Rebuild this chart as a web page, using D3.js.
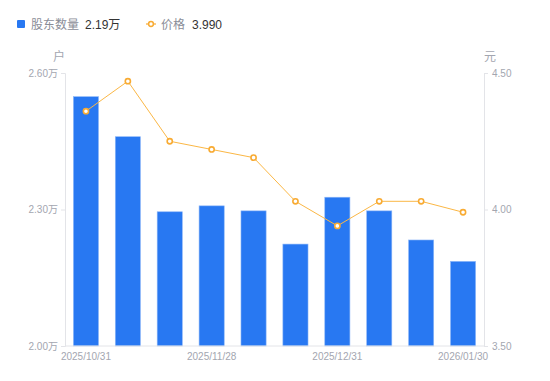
<!DOCTYPE html>
<html><head><meta charset="utf-8">
<script src="https://cdn.jsdelivr.net/npm/d3@7/dist/d3.min.js"></script>
<style>body{margin:0;background:#fff;}svg{display:block;font-family:"Liberation Sans","Noto Sans CJK SC",sans-serif;}</style>
</head><body>
<script>
const categories = ["2025/10/31","2025/11/10","2025/11/20","2025/11/28","2025/12/10","2025/12/20","2025/12/31","2026/01/10","2026/01/20","2026/01/30"];
const holders = [2.548, 2.460, 2.295, 2.308, 2.297, 2.224, 2.327, 2.297, 2.233, 2.186];
const prices = [4.36, 4.47, 4.25, 4.22, 4.19, 4.03, 3.94, 4.03, 4.03, 3.99];
const leftTicks = [2.00, 2.30, 2.60];
const rightTicks = [3.50, 4.00, 4.50];
const shownLabels = ["2025/10/31","2025/11/28","2025/12/31","2026/01/30"];

const W = 550, H = 381;
const m = {l:65, r:66, t:73, b:35};
const FONT = "'Liberation Sans','Noto Sans CJK SC',sans-serif";
const svg = d3.select("body").append("svg").attr("width", W).attr("height", H);

const x = d3.scaleBand().domain(categories).range([m.l, W - m.r]).paddingInner(0.4).paddingOuter(0.2);
const yL = d3.scaleLinear().domain([2.0, 2.6]).range([H - m.b, m.t]);
const yR = d3.scaleLinear().domain([3.5, 4.5]).range([H - m.b, m.t]);

const axisColor = "#e3e4e8", textColor = "#a3a6b0";

// bars
svg.append("g").selectAll("rect").data(holders).join("rect")
  .attr("x", (d,i) => x(categories[i]))
  .attr("y", d => yL(d))
  .attr("width", x.bandwidth())
  .attr("height", d => yL(2.0) - yL(d))
  .attr("fill", "#2878f2")
  .attr("stroke", "#8fb8f8").attr("stroke-width", 0.6);

// axes
const gL = svg.append("g").attr("transform", `translate(${m.l},0)`)
  .call(d3.axisLeft(yL).tickValues(leftTicks).tickSize(4).tickPadding(3).tickFormat(d => d3.format(".2f")(d) + "万"));
const gR = svg.append("g").attr("transform", `translate(${W - m.r},0)`)
  .call(d3.axisRight(yR).tickValues(rightTicks).tickSize(4).tickPadding(4).tickFormat(d3.format(".2f")));
const gB = svg.append("g").attr("transform", `translate(0,${H - m.b})`)
  .call(d3.axisBottom(x).tickValues(shownLabels).tickSize(0).tickPadding(7));
gB.select(".domain").attr("d", `M${m.l},0H${W - m.r}`);
[gL, gR, gB].forEach(g => {
  g.select(".domain").attr("stroke", axisColor);
  g.selectAll(".tick line").attr("stroke", axisColor);
  g.selectAll("text").attr("fill", textColor).attr("font-size", 10).attr("font-family", FONT);
});

// unit labels
svg.append("text").attr("x", 59).attr("y", 61).attr("text-anchor", "middle").attr("font-size", 12).attr("fill", textColor).text("户");
svg.append("text").attr("x", 490).attr("y", 61).attr("text-anchor", "middle").attr("font-size", 12).attr("fill", textColor).text("元");

// line
const cx = (i) => x(categories[i]) + x.bandwidth()/2;
svg.append("path").datum(prices)
  .attr("fill", "none").attr("stroke", "#fbb745").attr("stroke-width", 1)
  .attr("d", d3.line().x((d,i) => cx(i)).y(d => yR(d)));
svg.append("g").selectAll("circle").data(prices).join("circle")
  .attr("cx", (d,i) => cx(i)).attr("cy", d => yR(d)).attr("r", 2.6)
  .attr("fill", "#fff").attr("stroke", "#f8ab33").attr("stroke-width", 1.6);

// legend
const lg = svg.append("g").attr("font-size", 12);
lg.append("rect").attr("x", 17).attr("y", 20).attr("width", 8).attr("height", 8).attr("rx", 1).attr("fill", "#2878f2");
lg.append("text").attr("x", 31).attr("y", 28.5).attr("fill", "#8a8d97").text("股东数量");
lg.append("text").attr("x", 85).attr("y", 28.5).attr("fill", "#333").text(d3.format(".2f")(holders[holders.length-1]) + "万");
lg.append("line").attr("x1", 146).attr("x2", 156).attr("y1", 24).attr("y2", 24).attr("stroke", "#f8ab33").attr("stroke-width", 1.2);
lg.append("circle").attr("cx", 151).attr("cy", 24).attr("r", 2.4).attr("fill", "#fff").attr("stroke", "#f8ab33").attr("stroke-width", 1.5);
lg.append("text").attr("x", 161).attr("y", 28.5).attr("fill", "#8a8d97").text("价格");
lg.append("text").attr("x", 192).attr("y", 28.5).attr("fill", "#333").text(d3.format(".3f")(prices[prices.length-1]));
</script>
</body></html>
